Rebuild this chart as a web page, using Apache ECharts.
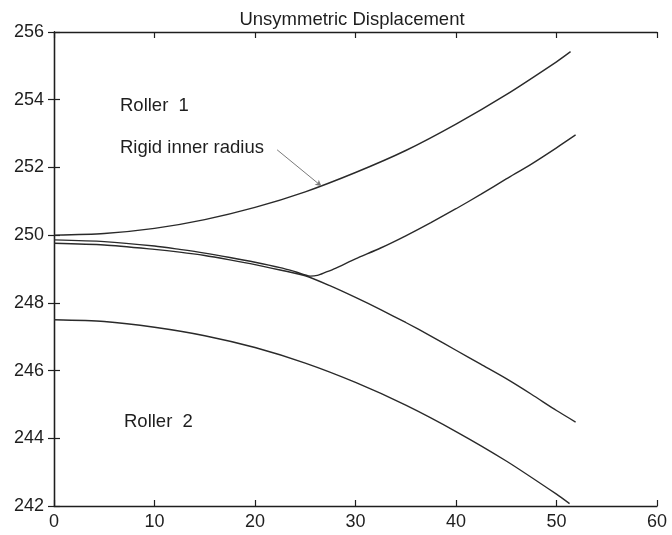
<!DOCTYPE html>
<html>
<head>
<meta charset="utf-8">
<script src="https://cdn.jsdelivr.net/npm/echarts@6/dist/echarts.min.js"></script>
<style>
  html, body { margin: 0; padding: 0; background: #fff; }
  #chart { width: 672px; height: 535px; }
</style>
</head>
<body>
<div id="chart"></div>
<script>
// Displacement profiles of the two rollers (radius vs. position)
const titleText = 'Unsymmetric Displacement';

const xTicks = [0, 10, 20, 30, 40, 50, 60];
const yTicks = [242, 244, 246, 248, 250, 252, 254, 256];

// Roller 1, rigid inner radius
const r1RigidX = [0, 5, 10, 15, 20, 25, 30, 35, 40, 45, 50, 51.4];
const r1RigidY = [250.0, 250.05, 250.2, 250.46, 250.82, 251.28, 251.85, 252.5, 253.28, 254.15, 255.12, 255.42];

// Roller 1, second profile (follows roller 2 then lifts off)
const r1OuterX = [0, 5, 10, 12.5, 15, 17.5, 20, 22.5, 24, 25.5, 26.2, 27, 28, 30, 32.5, 35, 37.5, 40, 42.5, 45, 47.5, 50, 51.9];
const r1OuterY = [249.86, 249.81, 249.68, 249.58, 249.47, 249.34, 249.2, 249.04, 248.92, 248.79, 248.81, 248.9, 249.02, 249.3, 249.62, 249.98, 250.37, 250.78, 251.21, 251.66, 252.1, 252.58, 252.96];

// Roller 2, upper profile
const r2UpperX = [0, 5, 10, 12.5, 15, 17.5, 20, 22.5, 25, 27.5, 30, 32.5, 35, 37.5, 40, 42.5, 45, 47.5, 50, 51.9];
const r2UpperY = [249.76, 249.71, 249.58, 249.5, 249.4, 249.27, 249.13, 248.97, 248.8, 248.5, 248.16, 247.8, 247.42, 247.02, 246.6, 246.18, 245.76, 245.3, 244.82, 244.48];

// Roller 2, lower profile
const r2LowerX = [0, 5, 10, 15, 20, 25, 30, 35, 40, 45, 50, 51.3];
const r2LowerY = [247.5, 247.45, 247.28, 247.03, 246.68, 246.22, 245.65, 244.98, 244.2, 243.33, 242.35, 242.07];

// Leader line for the "Rigid inner radius" note (data coordinates)
const leaderFrom = [22.2, 252.52];
const leaderTo = [26.6, 251.45];

const zip = (xs, ys) => xs.map((x, i) => [x, ys[i]]);

const FONT = 'Liberation Sans, Arial, Helvetica, sans-serif';
const INK = '#1e1e1e';
const CURVE = '#2a2a2a';

const chart = echarts.init(document.getElementById('chart'), null, { renderer: 'canvas' });

const xMin = xTicks[0], xMax = xTicks[xTicks.length - 1];
const yMin = yTicks[0], yMax = yTicks[yTicks.length - 1];

const axisCommon = {
  axisLine: { show: true, lineStyle: { color: INK, width: 1.3 } },
  axisTick: { show: true, inside: true, length: 6, lineStyle: { color: INK, width: 1.2 } },
  splitLine: { show: false }
};

function curve(name, xs, ys) {
  return {
    name, type: 'line', data: zip(xs, ys),
    showSymbol: false, smooth: 0.25,
    lineStyle: { color: CURVE, width: 1.4 },
    silent: true, animation: false
  };
}

const option = {
  backgroundColor: '#fff',
  animation: false,
  title: {
    text: titleText, left: 347, top: 5, textAlign: 'center',
    textStyle: { fontFamily: FONT, fontSize: 18.5, fontWeight: 'normal', color: INK }
  },
  grid: { left: 54, right: 15, top: 32, bottom: 29 },
  xAxis: [
    Object.assign({}, axisCommon, {
      type: 'value', min: xMin, max: xMax, interval: 10, position: 'bottom',
      axisLabel: { fontFamily: FONT, fontSize: 18, color: INK, margin: 7 }
    }),
    Object.assign({}, axisCommon, {
      type: 'value', min: xMin, max: xMax, interval: 10, position: 'top',
      axisLabel: { show: false }
    })
  ],
  yAxis: [
    Object.assign({}, axisCommon, {
      type: 'value', min: yMin, max: yMax, interval: 2, position: 'left',
      axisLabel: { fontFamily: FONT, fontSize: 18, color: INK, margin: 10 }
    }),
    Object.assign({}, axisCommon, {
      type: 'value', min: yMin, max: yMax, interval: 2, position: 'right',
      axisLabel: { show: false }
    })
  ],
  series: [
    Object.assign(curve('Roller 1 rigid inner radius', r1RigidX, r1RigidY), {
      markLine: {
        silent: true, animation: false,
        symbolSize: [5, 6],
        label: { show: false },
        lineStyle: { color: '#7a7a7a', width: 1, type: 'solid' },
        data: [[
          { coord: leaderFrom, symbol: 'none' },
          { coord: leaderTo, symbol: 'arrow' }
        ]]
      }
    }),
    curve('Roller 1 outer', r1OuterX, r1OuterY),
    curve('Roller 2 upper', r2UpperX, r2UpperY),
    curve('Roller 2 lower', r2LowerX, r2LowerY)
  ],
  graphic: [
    { type: 'text', left: 120, top: 96, style: { text: 'Roller  1', font: '18.5px ' + FONT, fill: INK } },
    { type: 'text', left: 120, top: 138, style: { text: 'Rigid inner radius', font: '18.5px ' + FONT, fill: INK } },
    { type: 'text', left: 124, top: 412, style: { text: 'Roller  2', font: '18.5px ' + FONT, fill: INK } }
  ]
};

chart.setOption(option);
</script>
</body>
</html>
